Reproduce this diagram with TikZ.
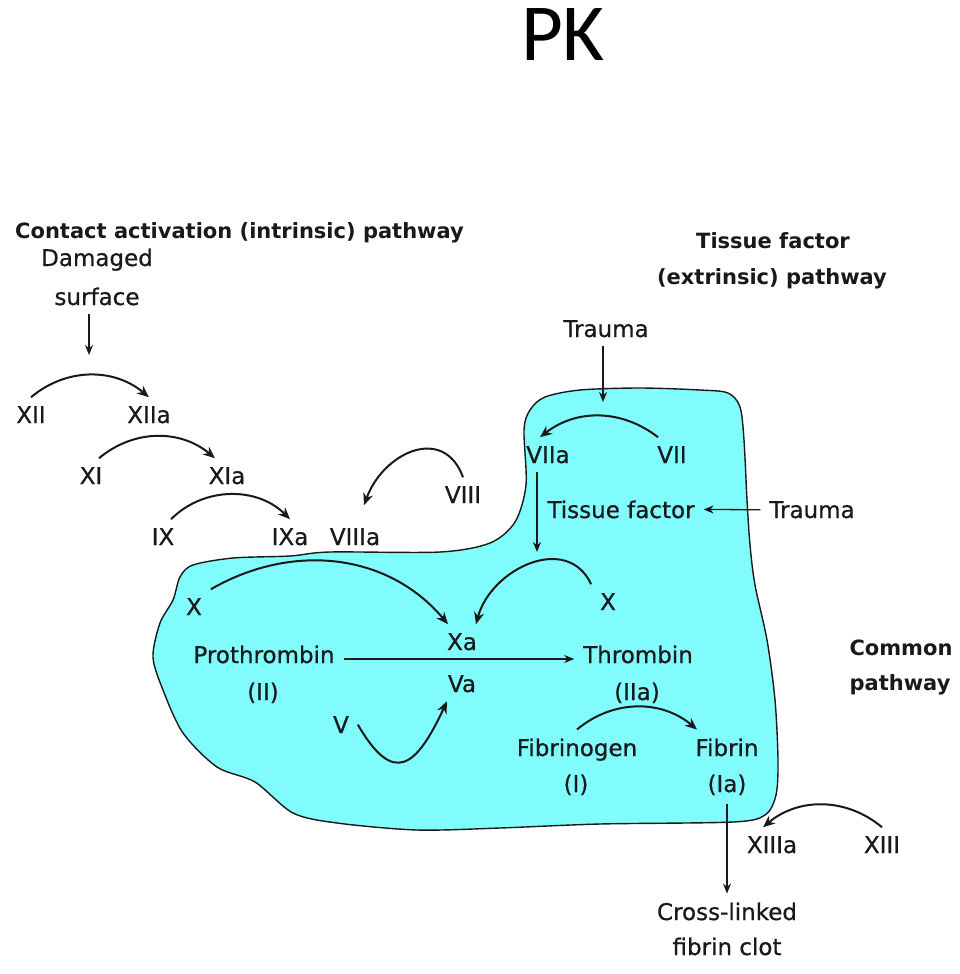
\documentclass[tikz,border=0pt]{standalone}
\usepackage{fontspec}
\setmainfont{DejaVu Sans}
\newfontfamily\facfont{DejaVu Sans}[FakeBold=0.6]
\newfontfamily\titlefont{Carlito}
\usetikzlibrary{arrows.meta}

\definecolor{clotcyan}{RGB}{128,252,252}
\definecolor{ink}{RGB}{25,25,25}

\tikzset{
  fac/.style={font=\facfont\fontsize{23}{28}\selectfont, text=ink, anchor=base, inner sep=3pt, outer sep=6pt},
  head/.style={font=\fontsize{21}{26}\selectfont\bfseries, text=ink, anchor=base, inner sep=0pt},
  conv/.style={-{Stealth[length=12pt,width=10pt]}, line width=2pt, draw=ink},
  line/.style={-{Stealth[length=10pt,width=8pt]}, line width=1.3pt, draw=ink},
}

\begin{document}
\begin{tikzpicture}[x=1pt, y=1pt]
      \useasboundingbox (0,0) rectangle (960,-974);

      \draw[line width=1.4pt, draw=ink, fill=clotcyan] plot[smooth cycle, tension=0.5] coordinates {
            (193,-565) (233,-558) (290,-556) (330,-552) (440,-552) (490,-543) (515,-522)
            (526,-485) (524,-430) (530,-410) (545,-397) (580,-390) (640,-388) (700,-390)
            (728,-393) (740,-407) (744,-440) (747,-500) (750,-545) (755,-585) (767,-640)
            (775,-700) (778,-760) (776,-795) (765,-815) (733,-822) (600,-824) (500,-828)
            (417,-830) (337,-823) (293,-813) (255,-782) (217,-767) (183,-733) (163,-690)
            (153,-657) (160,-623) (173,-600) (180,-577)};

      \node[anchor=base, inner sep=0pt, font=\titlefont\fontsize{81}{90}\selectfont] (pk) at (563,-60) {PK};

      \node[head] (cah) at (239.5,-238) {Contact activation (intrinsic) pathway};
      \node[head] (tfh1) at (773,-248) {Tissue factor};
      \node[head] (tfh2) at (772,-284) {(extrinsic) pathway};
      \node[head] (cph1) at (901,-655) {Common};
      \node[head] (cph2) at (900,-690) {pathway};

      \node[fac] (dmg) at (97,-266) {Damaged};
      \node[fac] (srf) at (97,-305) {surface};
      \node[fac] (xii) at (31,-423) {XII};
      \node[fac] (xiia) at (149,-423) {XIIa};
      \node[fac] (xi) at (91,-484) {XI};
      \node[fac] (xia) at (227,-484) {XIa};
      \node[fac] (ix) at (163,-545) {IX};
      \node[fac] (ixa) at (290,-545) {IXa};
      \node[fac] (viiia) at (355,-545) {VIIIa};
      \node[fac] (viii) at (463,-503) {VIII};

      \node[fac] (trt) at (606,-337) {Trauma};
      \node[fac] (viia) at (548,-463) {VIIa};
      \node[fac] (vii) at (672,-463) {VII};
      \node[fac] (tf) at (621,-518) {Tissue factor};
      \node[fac] (trr) at (812,-518) {Trauma};

      \node[fac] (xl) at (194,-615) {X};
      \node[fac] (xr) at (608,-610) {X};
      \node[fac] (xa) at (462,-650) {Xa};
      \node[fac] (va) at (462,-692) {Va};
      \node[fac] (pro) at (264,-663) {Prothrombin};
      \node[fac] (pii) at (263,-700) {(II)};
      \node[fac] (thr) at (638,-663) {Thrombin};
      \node[fac] (piia) at (637,-700) {(IIa)};
      \node[fac] (v) at (341,-733) {V};
      \node[fac] (fgn) at (577,-756) {Fibrinogen};
      \node[fac] (fbn) at (727,-756) {Fibrin};
      \node[fac] (pi) at (576,-792) {(I)};
      \node[fac] (pia) at (727,-792) {(Ia)};
      \node[fac] (xiiia) at (772,-853) {XIIIa};
      \node[fac] (xiii) at (882,-853) {XIII};
      \node[fac] (clot1) at (727,-920) {Cross-linked};
      \node[fac] (clot2) at (727,-955) {fibrin clot};

      \coordinate (hit12) at (89,-355);
      \coordinate (hit7) at (603,-402);
      \coordinate (hit10) at (537,-552);

      \draw[line] (srf.south -| hit12) -- (hit12);
      \draw[conv] (xii.north) to[bend left=40] (xiia.north);
      \draw[conv] ([xshift=8pt]xi.north) to[bend left=40] ([xshift=-12pt]xia.north);
      \draw[conv] ([xshift=8pt]ix.north) to[bend left=45] (ixa.north);
      \draw[conv] (viii.north) to[out=110, in=70, looseness=1.4] ([xshift=9pt, yshift=14pt]viiia.north);

      \draw[line] (trt.south -| hit7) -- (hit7);
      \draw[conv] ([xshift=-14pt]vii.north) to[bend right=38] ([xshift=-8pt]viia.north);
      \draw[line] (trr.west) -- (tf.east);
      \draw[line] (viia.south -| hit10) -- (hit10);

      \draw[conv] (xr.north west) to[out=115, in=75, looseness=1.2] ([xshift=14pt]xa.north);
      \draw[conv] (xl.north east) to[out=30, in=130] ([xshift=-14pt]xa.north);
      \draw[line] ([yshift=4pt]pro.base east) -- ([yshift=4pt]thr.base west);
      \draw[conv] (v.east) to[out=-60, in=-115, looseness=2] ([xshift=8pt]va.south west);
      \draw[conv] (fgn.north) to[bend left=40] ([xshift=-30pt]fbn.north);
      \draw[line] (pia.south) -- (clot1.north);
      \draw[conv] (xiii.north) to[bend right=40] ([xshift=-9pt]xiiia.north);
\end{tikzpicture}
\end{document}
